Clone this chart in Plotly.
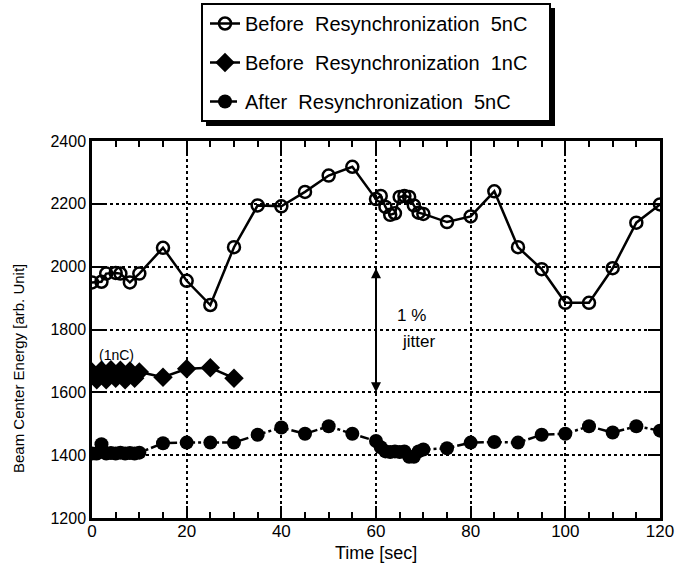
import plotly.graph_objects as go

# ---- data ----
before5_t = [0, 2, 3, 5, 6, 8, 10, 15, 20, 25, 30, 35, 40, 45, 50, 55,
             60, 61, 62, 63, 64, 65, 66, 67, 68, 69, 70, 75, 80, 85, 90,
             95, 100, 105, 110, 115, 120]
before5_e = [1950, 1952, 1978, 1980, 1978, 1950, 1978, 2060, 1955, 1878,
             2062, 2195, 2192, 2238, 2290, 2318, 2215, 2225, 2190, 2165,
             2170, 2222, 2225, 2222, 2195, 2172, 2168, 2142, 2160, 2240,
             2062, 1992, 1885, 1885, 1995, 2140, 2198]

before1_t = [0, 1, 2, 3, 4, 5, 6, 7, 8, 9, 10, 15, 20, 25, 30]
before1_e = [1665, 1640, 1670, 1640, 1672, 1645, 1670, 1640, 1668, 1645,
             1665, 1648, 1675, 1678, 1645]

after5_t = [0, 1, 2, 3, 4, 5, 6, 7, 8, 9, 10, 15, 20, 25, 30, 35, 40, 45,
            50, 55, 60, 61, 62, 63, 64, 65, 66, 67, 68, 69, 70, 75, 80, 85,
            90, 95, 100, 105, 110, 115, 120]
after5_e = [1405, 1405, 1435, 1405, 1407, 1405, 1408, 1405, 1407, 1405,
            1408, 1438, 1440, 1440, 1440, 1465, 1488, 1468, 1492, 1468,
            1445, 1425, 1412, 1410, 1412, 1410, 1412, 1395, 1395, 1412,
            1418, 1422, 1440, 1442, 1440, 1465, 1468, 1492, 1472, 1492,
            1478]

x_ticks = [0, 20, 40, 60, 80, 100, 120]
y_ticks = [1200, 1400, 1600, 1800, 2000, 2200, 2400]

FONT = "Liberation Sans, Arial, Helvetica, sans-serif"
W, H = 677, 576

fig = go.Figure()
fig.add_trace(go.Scatter(
    x=before5_t, y=before5_e, mode="lines+markers",
    name="Before  Resynchronization  5nC", legendgroup="a",
    line=dict(color="black", width=2.5),
    marker=dict(symbol="circle-open", size=12, color="black",
                line=dict(width=2.5, color="black"))))
fig.add_trace(go.Scatter(
    x=before1_t, y=before1_e, mode="lines+markers",
    name="Before  Resynchronization  1nC", legendgroup="b",
    line=dict(color="black", width=2.5),
    marker=dict(symbol="diamond", size=15, color="black")))
fig.add_trace(go.Scatter(
    x=after5_t, y=after5_e, mode="lines+markers",
    name="After  Resynchronization  5nC", legendgroup="c",
    line=dict(color="black", width=2.5, dash="dashdot"),
    marker=dict(symbol="circle", size=14, color="black")))

def px2paper_x(px):
    return (px - 92) / 568.0

def px2paper_y(py):
    return (518 - py) / 377.0

# legend box with shadow
fig.add_shape(type="rect", xref="paper", yref="paper",
              x0=px2paper_x(206), x1=px2paper_x(555),
              y0=px2paper_y(126), y1=px2paper_y(8),
              fillcolor="black", line=dict(width=0), layer="above")
fig.add_shape(type="rect", xref="paper", yref="paper",
              x0=px2paper_x(202), x1=px2paper_x(550),
              y0=px2paper_y(121), y1=px2paper_y(4),
              fillcolor="white", line=dict(color="black", width=2),
              layer="above")

# annotations
fig.add_annotation(x=5.2, y=1720, text="(1nC)", showarrow=False,
                   font=dict(family=FONT, size=14, color="black"))
fig.add_annotation(x=67.5, y=1845, text="1 %", showarrow=False,
                   font=dict(family=FONT, size=17, color="black"))
fig.add_annotation(x=69, y=1762, text="jitter", showarrow=False,
                   font=dict(family=FONT, size=17, color="black"))
fig.add_annotation(x=60, y=1600, ax=60, ay=2000, axref="x", ayref="y",
                   text="", showarrow=True, arrowhead=2, arrowside="end+start",
                   arrowwidth=2, arrowcolor="black", arrowsize=1)
fig.add_annotation(xref="paper", yref="paper", x=px2paper_x(18),
                   y=px2paper_y(369), xanchor="center", yanchor="middle",
                   text="Beam Center Energy [arb. Unit]",
                   textangle=-90, showarrow=False,
                   font=dict(family=FONT, size=15, color="black"))
fig.add_annotation(xref="paper", yref="paper", x=px2paper_x(376),
                   y=px2paper_y(553), xanchor="center", yanchor="middle",
                   text="Time [sec]", showarrow=False,
                   font=dict(family=FONT, size=18, color="black"))

axis_common = dict(showline=True, linecolor="black", linewidth=2.5,
                   mirror="ticks", ticks="inside", tickcolor="black",
                   tickwidth=2, ticklen=12, showgrid=True, gridcolor="black",
                   gridwidth=2, griddash="dot", zeroline=False,
                   automargin=False,
                   tickfont=dict(family=FONT, size=17, color="black"))

fig.update_xaxes(range=[0, 120], tickvals=x_ticks, ticklabelstandoff=-4,
                 minor=dict(dtick=5, ticks="inside", ticklen=6,
                            tickcolor="black", tickwidth=2, showgrid=False),
                 **axis_common)
fig.update_yaxes(range=[1200, 2400], tickvals=y_ticks, **axis_common)
fig.update_yaxes(tickfont=dict(family=FONT, size=16, color="black"))

fig.update_layout(
    width=W, height=H,
    margin=dict(l=92, r=17, t=141, b=58, autoexpand=False),
    paper_bgcolor="white", plot_bgcolor="white",
    showlegend=True,
    legend=dict(xref="container", yref="container",
                x=205 / W, y=1 - 4 / H, xanchor="left",
                yanchor="top", bgcolor="rgba(0,0,0,0)", borderwidth=0,
                font=dict(family=FONT, size=20, color="black"),
                tracegroupgap=10, itemwidth=30),
)

fig.write_html("out.html",
               config={"displayModeBar": False},
               post_script="document.body.style.margin='0';"
                           "document.body.style.padding='0';")
